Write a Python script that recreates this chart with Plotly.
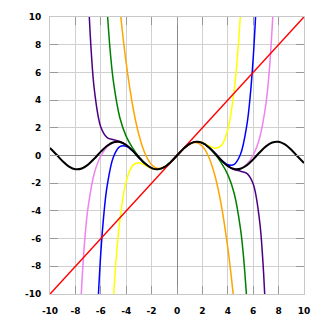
import plotly.graph_objects as go

# sin(x) and its Taylor polynomials
X_SIN = [-10, -9.5, -9, -8.5, -8, -7.5, -7, -6.5, -6, -5.5, -5, -4.5, -4, -3.5, -3, -2.5, -2, -1.5, -1, -0.5, 0,
         0.5, 1, 1.5, 2, 2.5, 3, 3.5, 4, 4.5, 5, 5.5, 6, 6.5, 7, 7.5, 8, 8.5, 9, 9.5, 10]
Y_SIN = [0.544, 0.075, -0.412, -0.798, -0.989, -0.938, -0.657, -0.215, 0.279, 0.706, 0.959, 0.978, 0.757, 0.351,
         -0.141, -0.598, -0.909, -0.997, -0.841, -0.479, 0,
         0.479, 0.841, 0.997, 0.909, 0.598, 0.141, -0.351, -0.757, -0.978, -0.959, -0.706, -0.279, 0.215, 0.657,
         0.938, 0.989, 0.798, 0.412, -0.075, -0.544]

X_T1 = [-10, 10]
Y_T1 = [-10, 10]

X_T3 = [-4.5, -4.25, -4, -3.5, -3, -2.5, -2, -1.5, -1, -0.5, 0, 0.5, 1, 1.5, 2, 2.5, 3, 3.5, 4, 4.25, 4.5]
Y_T3 = [10.69, 8.545, 6.667, 3.646, 1.5, 0.104, -0.667, -0.938, -0.833, -0.479, 0,
        0.479, 0.833, 0.938, 0.667, -0.104, -1.5, -3.646, -6.667, -8.545, -10.69]

X_T5 = [-5, -4.75, -4.5, -4, -3.5, -3, -2.5, -2, -1.5, -1, -0.5, 0, 0.5, 1, 1.5, 2, 2.5, 3, 3.5, 4, 4.5, 4.75, 5]
Y_T5 = [-10.21, -7.04, -4.69, -1.867, -0.731, -0.525, -0.710, -0.933, -1.001, -0.842, -0.479, 0,
        0.479, 0.842, 1.001, 0.933, 0.710, 0.525, 0.731, 1.867, 4.69, 7.04, 10.21]

X_T7 = [-5.5, -5.25, -5, -4.5, -4, -3.5, -3, -2.5, -2, -1.5, -1, -0.5, 0,
        0.5, 1, 1.5, 2, 2.5, 3, 3.5, 4, 4.5, 5, 5.25, 5.5]
Y_T7 = [10.496, 7.442, 5.293, 2.724, 1.384, 0.546, -0.091, -0.589, -0.908, -0.997, -0.841, -0.479, 0,
        0.479, 0.841, 0.997, 0.908, 0.589, 0.091, -0.546, -1.384, -2.724, -5.293, -7.442, -10.496]

X_T9 = [-6.25, -6, -5.75, -5.5, -5, -4.5, -4, -3.5, -3, -2.5, -2, -1.5, -1, -0.5, 0,
        0.5, 1, 1.5, 2, 2.5, 3, 3.5, 4, 4.5, 5, 5.5, 5.75, 6, 6.25]
Y_T9 = [-11.17, -7.028, -4.145, -2.195, -0.089, 0.639, 0.662, 0.329, -0.145, -0.599, -0.909, -0.997, -0.841, -0.479, 0,
        0.479, 0.841, 0.997, 0.909, 0.599, 0.145, -0.329, -0.662, -0.639, 0.089, 2.195, 4.145, 7.028, 11.17]

X_T11 = [-7, -6.75, -6.5, -6, -5.5, -5, -4.5, -4, -3.5, -3, -2.5, -2, -1.5, -1, -0.5, 0,
         0.5, 1, 1.5, 2, 2.5, 3, 3.5, 4, 4.5, 5, 5.5, 6, 6.5, 6.75, 7]
Y_T11 = [11.842, 7.452, 4.692, 2.061, 1.295, 1.134, 1.023, 0.767, 0.353, -0.141, -0.598, -0.909, -0.997, -0.841, -0.479, 0,
         0.479, 0.841, 0.997, 0.909, 0.598, 0.141, -0.353, -0.767, -1.023, -1.134, -1.295, -2.061, -4.692, -7.452, -11.842]

X_T13 = [-7.75, -7.5, -7.25, -7, -6.5, -6, -5.5, -5, -4.5, -4, -3.5, -3, -2.5, -2, -1.5, -1, -0.5, 0,
         0.5, 1, 1.5, 2, 2.5, 3, 3.5, 4, 4.5, 5, 5.5, 6, 6.5, 7, 7.25, 7.5, 7.75]
Y_T13 = [-14.58, -9.349, -5.944, -3.718, -1.245, -0.036, 0.618, 0.938, 0.973, 0.756, 0.351, -0.141, -0.598, -0.909, -0.997,
         -0.841, -0.479, 0,
         0.479, 0.841, 0.997, 0.909, 0.598, 0.141, -0.351, -0.756, -0.973, -0.938, -0.618, 0.036, 1.245, 3.718, 5.944,
         9.349, 14.58]

TICKS = [-10, -8, -6, -4, -2, 0, 2, 4, 6, 8, 10]

series = [
    (X_T13, Y_T13, "violet", 1.5),
    (X_T11, Y_T11, "indigo", 1.5),
    (X_T9, Y_T9, "blue", 1.5),
    (X_T7, Y_T7, "green", 1.5),
    (X_T5, Y_T5, "yellow", 1.5),
    (X_T3, Y_T3, "orange", 1.5),
    (X_T1, Y_T1, "red", 1.5),
    (X_SIN, Y_SIN, "black", 2),
]

fig = go.Figure()
for xs, ys, col, w in series:
    fig.add_trace(go.Scatter(x=xs, y=ys, mode="lines",
                             line=dict(color=col, width=w, shape="spline", smoothing=1.0),
                             hoverinfo="skip", showlegend=False))

axis_common = dict(
    range=[-10, 10], tickvals=TICKS, ticktext=[str(t) for t in TICKS],
    showgrid=True, gridcolor="#d0d0d0", gridwidth=1,
    zeroline=True, zerolinecolor="#888888", zerolinewidth=1,
    showline=True, linecolor="#c8c8c8", linewidth=1, mirror="allticks",
    ticks="inside", ticklen=8, tickcolor="#999999", tickwidth=1,
    tickfont=dict(family="DejaVu Sans", size=9, color="black", weight="bold"),
    fixedrange=True,
)

fig.update_xaxes(**axis_common, ticklabelstandoff=8)
fig.update_yaxes(**axis_common, ticklabelstandoff=6)

fig.update_layout(
    width=330, height=330,
    margin=dict(l=50, r=26, t=17, b=36),
    paper_bgcolor="white", plot_bgcolor="white",
    showlegend=False,
)

fig.write_html("out.html")
